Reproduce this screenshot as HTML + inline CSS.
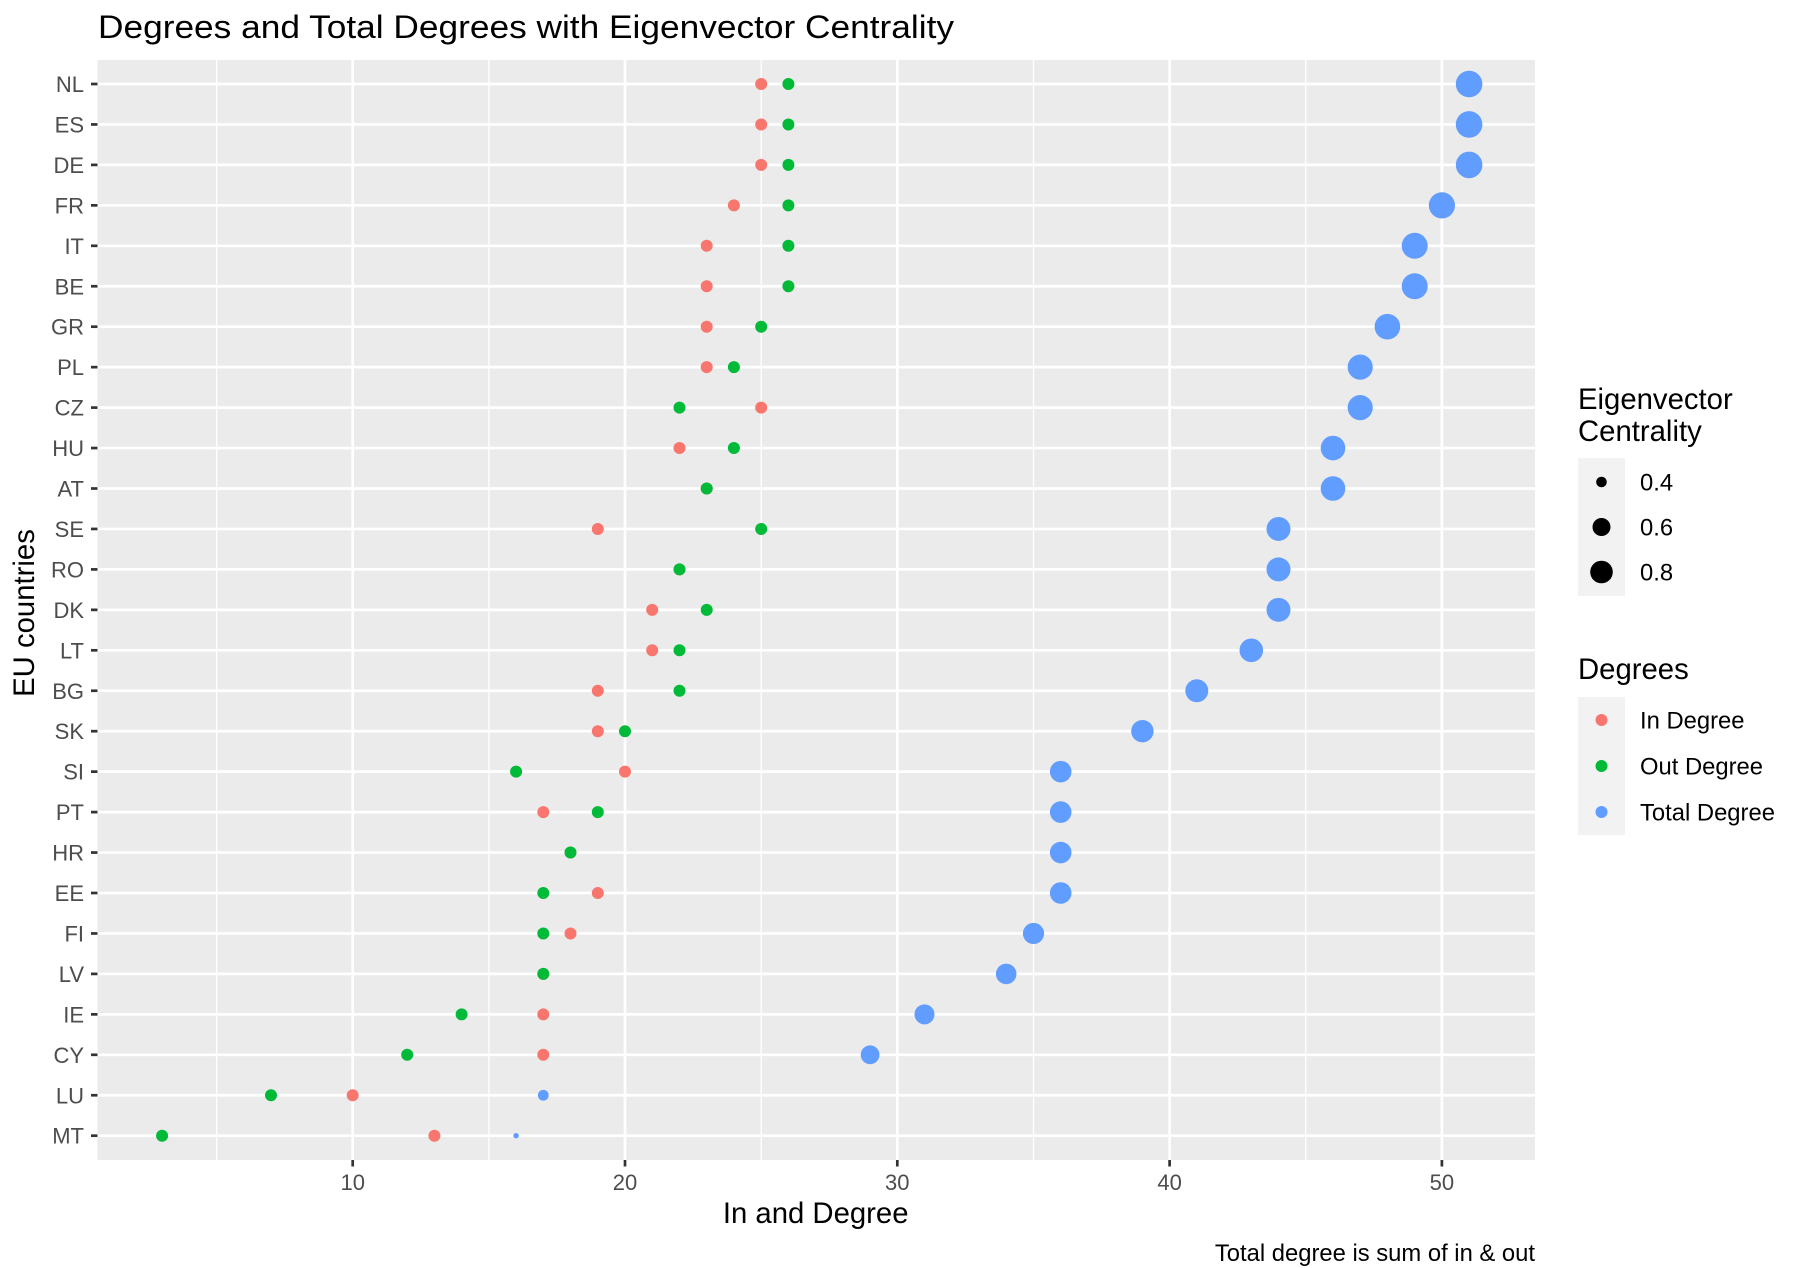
<!DOCTYPE html>
<html><head><meta charset="utf-8"><style>html,body{margin:0;padding:0;background:#fff}svg{display:block}</style></head>
<body>
<svg width="1804" height="1268" xmlns="http://www.w3.org/2000/svg" font-family="Liberation Sans, Arial, sans-serif">
<rect width="1804" height="1268" fill="#fff"/>
<text x="98" y="38" font-size="32" fill="#000" textLength="856" lengthAdjust="spacingAndGlyphs">Degrees and Total Degrees with Eigenvector Centrality</text>
<rect x="97.5" y="60" width="1437.5" height="1100" fill="#EBEBEB"/>
<g stroke="#fff" stroke-width="1.3">
<line x1="216.6" y1="60" x2="216.6" y2="1160"/><line x1="488.9" y1="60" x2="488.9" y2="1160"/><line x1="761.2" y1="60" x2="761.2" y2="1160"/><line x1="1033.5" y1="60" x2="1033.5" y2="1160"/><line x1="1305.7" y1="60" x2="1305.7" y2="1160"/>
</g>
<g stroke="#fff" stroke-width="2.7">
<line x1="352.7" y1="60" x2="352.7" y2="1160"/><line x1="625" y1="60" x2="625" y2="1160"/><line x1="897.3" y1="60" x2="897.3" y2="1160"/><line x1="1169.6" y1="60" x2="1169.6" y2="1160"/><line x1="1441.9" y1="60" x2="1441.9" y2="1160"/>
<line x1="97.5" x2="1535" y1="84" y2="84"/><line x1="97.5" x2="1535" y1="124.45" y2="124.45"/><line x1="97.5" x2="1535" y1="164.9" y2="164.9"/><line x1="97.5" x2="1535" y1="205.35" y2="205.35"/><line x1="97.5" x2="1535" y1="245.8" y2="245.8"/><line x1="97.5" x2="1535" y1="286.25" y2="286.25"/><line x1="97.5" x2="1535" y1="326.7" y2="326.7"/><line x1="97.5" x2="1535" y1="367.15" y2="367.15"/><line x1="97.5" x2="1535" y1="407.6" y2="407.6"/><line x1="97.5" x2="1535" y1="448.05" y2="448.05"/><line x1="97.5" x2="1535" y1="488.5" y2="488.5"/><line x1="97.5" x2="1535" y1="528.95" y2="528.95"/><line x1="97.5" x2="1535" y1="569.4" y2="569.4"/><line x1="97.5" x2="1535" y1="609.85" y2="609.85"/><line x1="97.5" x2="1535" y1="650.3" y2="650.3"/><line x1="97.5" x2="1535" y1="690.75" y2="690.75"/><line x1="97.5" x2="1535" y1="731.2" y2="731.2"/><line x1="97.5" x2="1535" y1="771.65" y2="771.65"/><line x1="97.5" x2="1535" y1="812.1" y2="812.1"/><line x1="97.5" x2="1535" y1="852.55" y2="852.55"/><line x1="97.5" x2="1535" y1="893" y2="893"/><line x1="97.5" x2="1535" y1="933.45" y2="933.45"/><line x1="97.5" x2="1535" y1="973.9" y2="973.9"/><line x1="97.5" x2="1535" y1="1014.35" y2="1014.35"/><line x1="97.5" x2="1535" y1="1054.8" y2="1054.8"/><line x1="97.5" x2="1535" y1="1095.25" y2="1095.25"/><line x1="97.5" x2="1535" y1="1135.7" y2="1135.7"/>
</g>
<g stroke="#333" stroke-width="2.7">
<line x1="91" x2="97.5" y1="84" y2="84"/><line x1="91" x2="97.5" y1="124.45" y2="124.45"/><line x1="91" x2="97.5" y1="164.9" y2="164.9"/><line x1="91" x2="97.5" y1="205.35" y2="205.35"/><line x1="91" x2="97.5" y1="245.8" y2="245.8"/><line x1="91" x2="97.5" y1="286.25" y2="286.25"/><line x1="91" x2="97.5" y1="326.7" y2="326.7"/><line x1="91" x2="97.5" y1="367.15" y2="367.15"/><line x1="91" x2="97.5" y1="407.6" y2="407.6"/><line x1="91" x2="97.5" y1="448.05" y2="448.05"/><line x1="91" x2="97.5" y1="488.5" y2="488.5"/><line x1="91" x2="97.5" y1="528.95" y2="528.95"/><line x1="91" x2="97.5" y1="569.4" y2="569.4"/><line x1="91" x2="97.5" y1="609.85" y2="609.85"/><line x1="91" x2="97.5" y1="650.3" y2="650.3"/><line x1="91" x2="97.5" y1="690.75" y2="690.75"/><line x1="91" x2="97.5" y1="731.2" y2="731.2"/><line x1="91" x2="97.5" y1="771.65" y2="771.65"/><line x1="91" x2="97.5" y1="812.1" y2="812.1"/><line x1="91" x2="97.5" y1="852.55" y2="852.55"/><line x1="91" x2="97.5" y1="893" y2="893"/><line x1="91" x2="97.5" y1="933.45" y2="933.45"/><line x1="91" x2="97.5" y1="973.9" y2="973.9"/><line x1="91" x2="97.5" y1="1014.35" y2="1014.35"/><line x1="91" x2="97.5" y1="1054.8" y2="1054.8"/><line x1="91" x2="97.5" y1="1095.25" y2="1095.25"/><line x1="91" x2="97.5" y1="1135.7" y2="1135.7"/>
<line x1="352.7" x2="352.7" y1="1160" y2="1166.5"/><line x1="625" x2="625" y1="1160" y2="1166.5"/><line x1="897.3" x2="897.3" y1="1160" y2="1166.5"/><line x1="1169.6" x2="1169.6" y1="1160" y2="1166.5"/><line x1="1441.9" x2="1441.9" y1="1160" y2="1166.5"/>
</g>
<g font-size="22" fill="#4D4D4D" text-anchor="end">
<text x="84" y="92">NL</text><text x="84" y="132.45">ES</text><text x="84" y="172.9">DE</text><text x="84" y="213.35">FR</text><text x="84" y="253.8">IT</text><text x="84" y="294.25">BE</text><text x="84" y="334.7">GR</text><text x="84" y="375.15">PL</text><text x="84" y="415.6">CZ</text><text x="84" y="456.05">HU</text><text x="84" y="496.5">AT</text><text x="84" y="536.95">SE</text><text x="84" y="577.4">RO</text><text x="84" y="617.85">DK</text><text x="84" y="658.3">LT</text><text x="84" y="698.75">BG</text><text x="84" y="739.2">SK</text><text x="84" y="779.65">SI</text><text x="84" y="820.1">PT</text><text x="84" y="860.55">HR</text><text x="84" y="901">EE</text><text x="84" y="941.45">FI</text><text x="84" y="981.9">LV</text><text x="84" y="1022.35">IE</text><text x="84" y="1062.8">CY</text><text x="84" y="1103.25">LU</text><text x="84" y="1143.7">MT</text>
</g>
<g font-size="22" fill="#4D4D4D" text-anchor="middle">
<text x="352.7" y="1190">10</text><text x="625" y="1190">20</text><text x="897.3" y="1190">30</text><text x="1169.6" y="1190">40</text><text x="1441.9" y="1190">50</text>
</g>
<text x="815.7" y="1223" font-size="29.3" text-anchor="middle" fill="#000">In and Degree</text>
<text transform="translate(34,613) rotate(-90)" font-size="29.3" text-anchor="middle" fill="#000">EU countries</text>
<text x="1535" y="1261" font-size="23.8" text-anchor="end" fill="#000">Total degree is sum of in &amp; out</text>
<g fill="#F8766D">
<circle cx="761.2" cy="84" r="6"/><circle cx="761.2" cy="124.45" r="6"/><circle cx="761.2" cy="164.9" r="6"/><circle cx="733.9" cy="205.35" r="6"/><circle cx="706.7" cy="245.8" r="6"/><circle cx="706.7" cy="286.25" r="6"/><circle cx="706.7" cy="326.7" r="6"/><circle cx="706.7" cy="367.15" r="6"/><circle cx="761.2" cy="407.6" r="6"/><circle cx="679.5" cy="448.05" r="6"/><circle cx="706.7" cy="488.5" r="6"/><circle cx="597.8" cy="528.95" r="6"/><circle cx="679.5" cy="569.4" r="6"/><circle cx="652.2" cy="609.85" r="6"/><circle cx="652.2" cy="650.3" r="6"/><circle cx="597.8" cy="690.75" r="6"/><circle cx="597.8" cy="731.2" r="6"/><circle cx="625" cy="771.65" r="6"/><circle cx="543.3" cy="812.1" r="6"/><circle cx="570.5" cy="852.55" r="6"/><circle cx="597.8" cy="893" r="6"/><circle cx="570.5" cy="933.45" r="6"/><circle cx="543.3" cy="973.9" r="6"/><circle cx="543.3" cy="1014.35" r="6"/><circle cx="543.3" cy="1054.8" r="6"/><circle cx="352.7" cy="1095.25" r="6"/><circle cx="434.4" cy="1135.7" r="6"/>
</g>
<g fill="#00BA38">
<circle cx="788.4" cy="84" r="6"/><circle cx="788.4" cy="124.45" r="6"/><circle cx="788.4" cy="164.9" r="6"/><circle cx="788.4" cy="205.35" r="6"/><circle cx="788.4" cy="245.8" r="6"/><circle cx="788.4" cy="286.25" r="6"/><circle cx="761.2" cy="326.7" r="6"/><circle cx="733.9" cy="367.15" r="6"/><circle cx="679.5" cy="407.6" r="6"/><circle cx="733.9" cy="448.05" r="6"/><circle cx="706.7" cy="488.5" r="6"/><circle cx="761.2" cy="528.95" r="6"/><circle cx="679.5" cy="569.4" r="6"/><circle cx="706.7" cy="609.85" r="6"/><circle cx="679.5" cy="650.3" r="6"/><circle cx="679.5" cy="690.75" r="6"/><circle cx="625" cy="731.2" r="6"/><circle cx="516.1" cy="771.65" r="6"/><circle cx="597.8" cy="812.1" r="6"/><circle cx="570.5" cy="852.55" r="6"/><circle cx="543.3" cy="893" r="6"/><circle cx="543.3" cy="933.45" r="6"/><circle cx="543.3" cy="973.9" r="6"/><circle cx="461.6" cy="1014.35" r="6"/><circle cx="407.2" cy="1054.8" r="6"/><circle cx="271" cy="1095.25" r="6"/><circle cx="162.1" cy="1135.7" r="6"/>
</g>
<g fill="#619CFF">
<circle cx="1469.1" cy="84" r="13.3"/><circle cx="1469.1" cy="124.45" r="13.3"/><circle cx="1469.1" cy="164.9" r="13.3"/><circle cx="1441.9" cy="205.35" r="13.1"/><circle cx="1414.7" cy="245.8" r="13"/><circle cx="1414.7" cy="286.25" r="13"/><circle cx="1387.4" cy="326.7" r="12.8"/><circle cx="1360.2" cy="367.15" r="12.6"/><circle cx="1360.2" cy="407.6" r="12.6"/><circle cx="1333" cy="448.05" r="12.3"/><circle cx="1333" cy="488.5" r="12.3"/><circle cx="1278.5" cy="528.95" r="12"/><circle cx="1278.5" cy="569.4" r="12"/><circle cx="1278.5" cy="609.85" r="12"/><circle cx="1251.3" cy="650.3" r="11.8"/><circle cx="1196.8" cy="690.75" r="11.5"/><circle cx="1142.4" cy="731.2" r="11.2"/><circle cx="1060.7" cy="771.65" r="10.8"/><circle cx="1060.7" cy="812.1" r="10.8"/><circle cx="1060.7" cy="852.55" r="10.8"/><circle cx="1060.7" cy="893" r="10.8"/><circle cx="1033.5" cy="933.45" r="10.6"/><circle cx="1006.2" cy="973.9" r="10.3"/><circle cx="924.5" cy="1014.35" r="10"/><circle cx="870.1" cy="1054.8" r="9.4"/><circle cx="543.3" cy="1095.25" r="5.4"/><circle cx="516.1" cy="1135.7" r="2.7"/>
</g>
<text x="1578" y="409" font-size="29.3" fill="#000">Eigenvector</text>
<text x="1578" y="441" font-size="29.3" fill="#000">Centrality</text>
<rect x="1578" y="458" width="47" height="138" fill="#F2F2F2"/>
<circle cx="1601.5" cy="482" r="5.3" fill="#000"/>
<circle cx="1601.5" cy="527" r="9" fill="#000"/>
<circle cx="1601.5" cy="572" r="11.3" fill="#000"/>
<g font-size="23.8" fill="#000">
<text x="1640" y="490.5">0.4</text><text x="1640" y="535.5">0.6</text><text x="1640" y="580.5">0.8</text>
</g>
<text x="1578" y="679" font-size="29.3" fill="#000">Degrees</text>
<rect x="1578" y="697" width="47" height="138" fill="#F2F2F2"/>
<circle cx="1601.5" cy="720" r="6" fill="#F8766D"/>
<circle cx="1601.5" cy="766" r="6" fill="#00BA38"/>
<circle cx="1601.5" cy="812" r="6" fill="#619CFF"/>
<g font-size="23.8" fill="#000">
<text x="1640" y="728.5">In Degree</text><text x="1640" y="774.5">Out Degree</text><text x="1640" y="820.5">Total Degree</text>
</g>
</svg>
</body></html>
